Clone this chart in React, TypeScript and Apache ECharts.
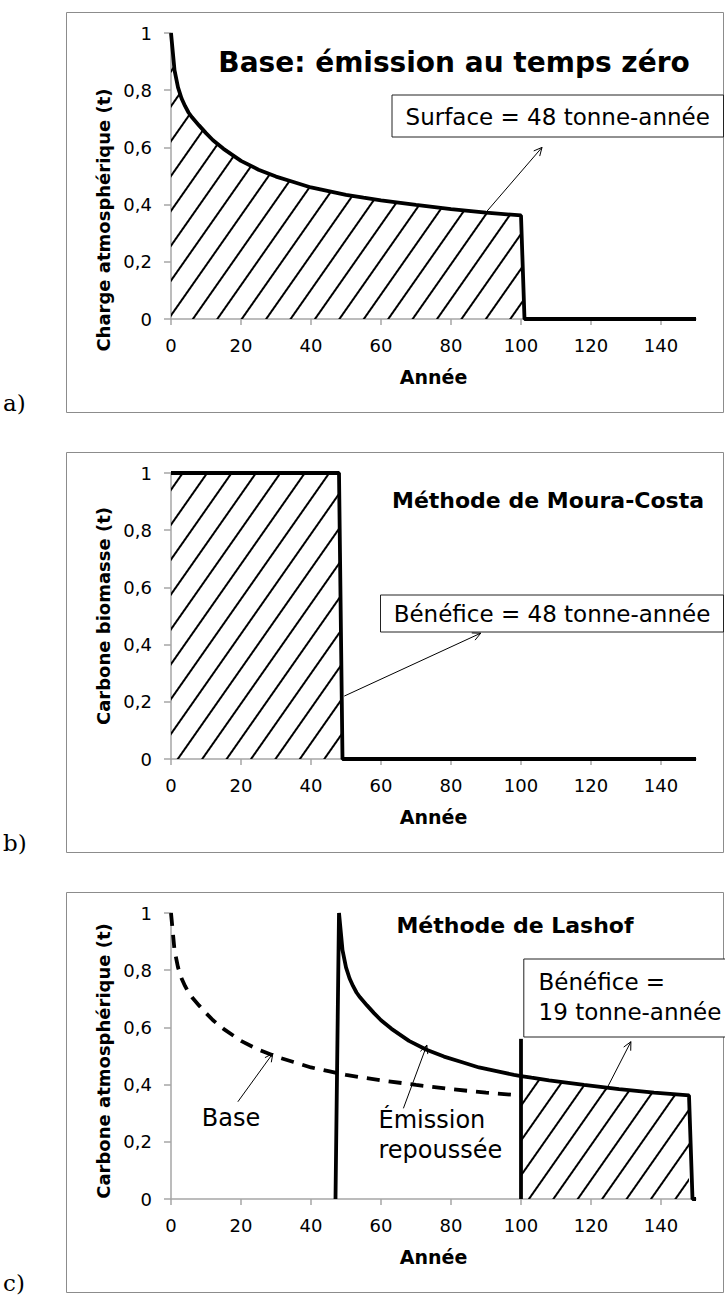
import React, { useEffect, useRef } from "react";
import * as echarts from "echarts";

// ---------- data ----------
const xTicks = [0, 20, 40, 60, 80, 100, 120, 140];

// Panel a — base: emission at time zero (atmospheric load, t)
const baseYears = [0, 1, 2, 3, 4, 5, 6, 8, 10, 12, 15, 20, 25, 30, 35, 40, 45, 50, 55, 60, 70, 80, 90, 100];
const baseValues = [1.0, 0.87, 0.81, 0.772, 0.745, 0.722, 0.705, 0.677, 0.65, 0.625, 0.595, 0.553, 0.522, 0.498, 0.479, 0.46, 0.447, 0.434, 0.424, 0.415, 0.399, 0.384, 0.372, 0.362];
const afterYears = [101, 150];
const afterValues = [0, 0];

// Panel b — Moura-Costa (biomass carbon, t)
const mouraYears = [0, 48, 49, 150];
const mouraValues = [1, 1, 0, 0];

// Panel c — Lashof (delayed emission)
const delayedYears = [47, 48, 49, 50, 51, 52, 53, 54, 56, 58, 60, 63, 68, 73, 78, 83, 88, 93, 98, 100, 103, 108, 118, 128, 138, 148, 149, 150];
const delayedValues = [0, 1.0, 0.87, 0.81, 0.772, 0.745, 0.722, 0.705, 0.677, 0.65, 0.625, 0.595, 0.553, 0.522, 0.498, 0.479, 0.46, 0.447, 0.434, 0.43, 0.424, 0.415, 0.399, 0.384, 0.372, 0.362, 0, 0];
const horizonYears = [100, 100];
const horizonValues = [0, 0.56];
const benefitFrom = 100;
const benefitTo = 148;

// Texts
const panelLetters = ["a)", "b)", "c)"];
const titles = ["Base: émission au temps zéro", "Méthode de Moura-Costa", "Méthode de Lashof"];
const yNames = ["Charge atmosphérique (t)", "Carbone biomasse (t)", "Carbone atmosphérique (t)"];
const xName = "Année";
const boxTextA = "Surface = 48 tonne-année";
const boxTextB = "Bénéfice = 48 tonne-année";
const boxTextC = ["Bénéfice =", "19 tonne-année"];
const baseLabel = "Base";
const delayedLabel = ["Émission", "repoussée"];

// Annotation arrows: [panel, tailX, tailY, headX, headY] in data units
const arrows: [number, number, number, number, number][] = [
  [0, 90, 0.373, 106, 0.6],
  [1, 49.5, 0.22, 88.5, 0.44],
  [2, 124.3, 0.381, 131.4, 0.55],
  [2, 19.1, 0.34, 29.1, 0.509],
  [2, 66.4, 0.317, 73.1, 0.538],
];

// ---------- styles / layout ----------
const FONT = "'DejaVu Sans', Arial, sans-serif";
const SERIF = "'DejaVu Serif', 'Times New Roman', serif";
const AXIS = "#a6a6a6";
const FRAME = "#8c8c8c";
const GRID_LEFT = 171;
const GRID_W = 525;
const GRID_H = 286;
const GRID_TOPS = [33, 473, 913];
const PANEL_TOPS = [12.5, 452.5, 892.5];

const zip = (xs: number[], ys: number[]) => xs.map((x, i) => [x, ys[i]]);

const fmtY = (v: number) => {
  const r = Math.round(v * 10) / 10;
  if (r === 0) return "0";
  if (r === 1) return "1";
  return r.toFixed(1).replace(".", ",");
};

const hatch = {
  symbol: "rect",
  symbolSize: 1,
  dashArrayX: [1, 0],
  dashArrayY: [1.2, 17.6],
  rotation: (-55 * Math.PI) / 180,
  color: "#000",
  backgroundColor: "rgba(0,0,0,0)",
};

function makeX(i: number) {
  return {
    type: "value",
    gridIndex: i,
    min: 0,
    max: 150,
    interval: 20,
    name: xName,
    nameLocation: "middle",
    nameGap: 48,
    nameTextStyle: { fontFamily: FONT, fontWeight: "bold", fontSize: 19, color: "#000" },
    axisLine: { show: true, onZero: false, lineStyle: { color: AXIS, width: 1.5 } },
    axisTick: { show: true, length: 6, customValues: xTicks, lineStyle: { color: AXIS, width: 1.5 } },
    axisLabel: { fontFamily: FONT, fontSize: 18, color: "#000", margin: 17, customValues: xTicks },
    splitLine: { show: false },
  };
}

function makeY(i: number, shift: number) {
  return {
    type: "value",
    gridIndex: i,
    min: 0,
    max: 1,
    interval: 0.2,
    name: yNames[i],
    nameLocation: "middle",
    nameRotate: 90,
    nameGap: 56,
    nameTextStyle: {
      fontFamily: FONT,
      fontWeight: "bold",
      fontSize: 18,
      color: "#000",
      padding: [0, shift, 0, 0],
    },
    axisLine: { show: true, lineStyle: { color: AXIS, width: 1.5 } },
    axisTick: { show: true, length: 7, lineStyle: { color: AXIS, width: 1.5 } },
    axisLabel: { fontFamily: FONT, fontSize: 18, color: "#000", margin: 19, formatter: fmtY },
    splitLine: { show: false },
  };
}

const thick = (extra: any = {}) => ({ color: "#000", width: 3.8, ...extra });

function buildOption() {
  const benefit = zip(delayedYears, delayedValues).filter(
    (p) => p[0] >= benefitFrom && p[0] <= benefitTo
  );
  return {
    animation: false,
    backgroundColor: "#fff",
    title: titles.map((t, i) => ({
      text: t,
      left: [454, 548, 515][i],
      top: [62, 500, 925][i],
      textAlign: "center",
      textVerticalAlign: "middle",
      padding: 0,
      textStyle: { fontFamily: FONT, fontWeight: "bold", fontSize: i === 0 ? 28 : 22, color: "#000" },
    })),
    grid: GRID_TOPS.map((top) => ({ left: GRID_LEFT, top, width: GRID_W, height: GRID_H, containLabel: false })),
    xAxis: [makeX(0), makeX(1), makeX(2)],
    yAxis: [makeY(0, 88), makeY(1, 0), makeY(2, 10)],
    series: [
      {
        name: "Base",
        type: "line",
        xAxisIndex: 0,
        yAxisIndex: 0,
        data: zip(baseYears, baseValues).concat(zip(afterYears, afterValues)),
        showSymbol: false,
        symbol: "none",
        lineStyle: thick({ decal: hatch }),
        itemStyle: { color: "#000", decal: hatch },
        areaStyle: { color: "rgba(0,0,0,0)", opacity: 1 },
        z: 3,
      },
      {
        name: "Moura-Costa",
        type: "line",
        xAxisIndex: 1,
        yAxisIndex: 1,
        data: zip(mouraYears, mouraValues),
        showSymbol: false,
        symbol: "none",
        lineStyle: thick({ decal: hatch }),
        itemStyle: { color: "#000", decal: hatch },
        areaStyle: { color: "rgba(0,0,0,0)", opacity: 1 },
        z: 3,
      },
      {
        name: "Base (c)",
        type: "line",
        xAxisIndex: 2,
        yAxisIndex: 2,
        data: zip(baseYears, baseValues),
        showSymbol: false,
        symbol: "none",
        lineStyle: thick({ type: [13, 9] }),
        itemStyle: { color: "#000" },
        z: 3,
      },
      {
        name: "Bénéfice",
        type: "line",
        xAxisIndex: 2,
        yAxisIndex: 2,
        data: benefit,
        showSymbol: false,
        symbol: "none",
        lineStyle: { width: 0, color: "#000", decal: hatch },
        itemStyle: { color: "#000", decal: hatch },
        areaStyle: { color: "rgba(0,0,0,0)", opacity: 1 },
        z: 2,
      },
      {
        name: "Émission repoussée",
        type: "line",
        xAxisIndex: 2,
        yAxisIndex: 2,
        data: zip(delayedYears, delayedValues),
        showSymbol: false,
        symbol: "none",
        lineStyle: thick(),
        itemStyle: { color: "#000" },
        z: 4,
      },
      {
        name: "Horizon",
        type: "line",
        xAxisIndex: 2,
        yAxisIndex: 2,
        data: zip(horizonYears, horizonValues),
        showSymbol: false,
        symbol: "none",
        lineStyle: thick(),
        itemStyle: { color: "#000" },
        z: 4,
      },
    ],
  };
}

function txt(text: string, x: number, y: number, size: number, align = "left", family = FONT, weight = "normal") {
  return {
    type: "text",
    z: 60,
    silent: true,
    style: { text, x, y, fontSize: size, fontFamily: family, fontWeight: weight, fill: "#000", align, verticalAlign: "middle" },
  };
}

function box(x: number, y: number, w: number, h: number) {
  return {
    type: "rect",
    z: 55,
    silent: true,
    shape: { x, y, width: w, height: h },
    style: { fill: "#fff", stroke: "#222", lineWidth: 1 },
  };
}

function buildGraphics(chart: any) {
  const els: any[] = [];
  PANEL_TOPS.forEach((top, i) => {
    els.push({
      type: "rect",
      z: 0,
      silent: true,
      shape: { x: 66.5, y: top, width: 657, height: 400 },
      style: { fill: "none", stroke: FRAME, lineWidth: 1 },
    });
    els.push(txt(panelLetters[i], 3, top + 390.5, 23, "left", SERIF));
  });
  els.push(box(392, 95, 331.5, 42));
  els.push(txt(boxTextA, 557.75, 116.5, 23, "center"));
  els.push(box(380.5, 595, 343, 37));
  els.push(txt(boxTextB, 552, 613.5, 23, "center"));
  els.push(box(523.8, 959, 230, 78));
  els.push(txt(boxTextC[0], 538.6, 981.7, 23));
  els.push(txt(boxTextC[1], 538.6, 1011.7, 23));
  els.push(txt(baseLabel, 231, 1118, 24, "center"));
  els.push(txt(delayedLabel[0], 378.5, 1120, 24));
  els.push(txt(delayedLabel[1], 378.5, 1150, 24));

  arrows.forEach(([g, tx, ty, hx, hy]) => {
    const [x1, y1] = chart.convertToPixel({ gridIndex: g }, [tx, ty]);
    const [x2, y2] = chart.convertToPixel({ gridIndex: g }, [hx, hy]);
    const a = Math.atan2(y2 - y1, x2 - x1);
    const L = 9;
    const phi = (26 * Math.PI) / 180;
    els.push({
      type: "line",
      z: 58,
      silent: true,
      shape: { x1, y1, x2, y2 },
      style: { stroke: "#000", lineWidth: 1 },
    });
    els.push({
      type: "polyline",
      z: 58,
      silent: true,
      shape: {
        points: [
          [x2 - L * Math.cos(a - phi), y2 - L * Math.sin(a - phi)],
          [x2, y2],
          [x2 - L * Math.cos(a + phi), y2 - L * Math.sin(a + phi)],
        ],
      },
      style: { stroke: "#000", lineWidth: 1, fill: "none" },
    });
  });
  return els;
}

export default function App() {
  const ref = useRef<HTMLDivElement>(null);
  useEffect(() => {
    const el = ref.current;
    if (!el) return;
    const chart = echarts.init(el, undefined, { renderer: "svg" });
    chart.setOption(buildOption() as any);
    chart.setOption({ graphic: { elements: buildGraphics(chart) } } as any);
    return () => chart.dispose();
  }, []);
  return (
    <div
      ref={ref}
      style={{ position: "absolute", left: 0, top: 0, width: 725, height: 1297, background: "#fff" }}
    />
  );
}
